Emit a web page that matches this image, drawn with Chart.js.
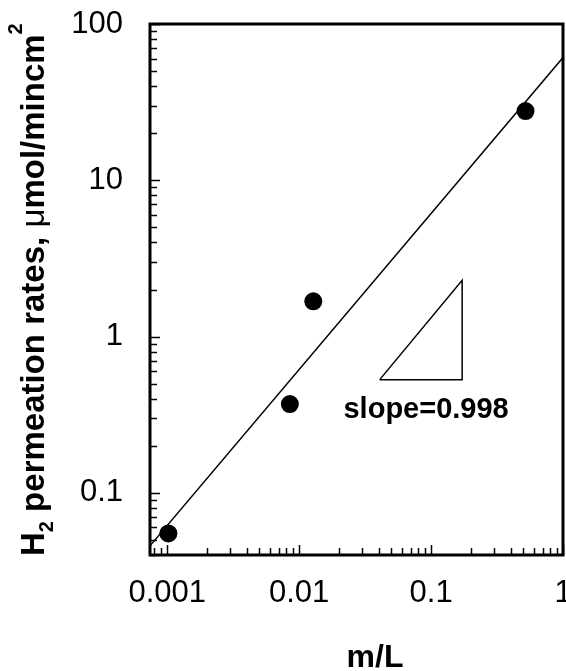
<!DOCTYPE html>
<html>
<head>
<meta charset="utf-8">
<script src="https://cdn.jsdelivr.net/npm/chart.js@4"></script>
<style>
html, body { margin: 0; padding: 0; background: #fff; }
#wrap { width: 566px; height: 671px; position: relative; }
</style>
</head>
<body>
<div id="wrap"><canvas id="myChart"></canvas></div>
<script>
// measured points
const xData = [0.00102, 0.0085, 0.0128, 0.52];
const yData = [0.055, 0.37, 1.68, 27.7];

// fitted line (ends at the plot edges)
const fitX = [0.00074, 1];
const fitY = [0.0458, 61];

// slope triangle
const triX = [0.0408, 0.172, 0.172, 0.0408];
const triY = [0.53, 2.29, 0.53, 0.53];

const xTicks = [0.001, 0.01, 0.1, 1];
const xTickLabels = ["0.001", "0.01", "0.1", "1"];
const yTicks = [0.1, 1, 10, 100];
const yTickLabels = ["0.1", "1", "10", "100"];
const xRange = [0.00074, 1];
const yRange = [0.04, 100];

const slopeLabel = "slope=0.998";
const slopeAt = [0.0917, 0.34];

const FONT = "'Liberation Sans', Arial, sans-serif";

const pts = (xs, ys) => xs.map((v, i) => ({ x: v, y: ys[i] }));

const framePlugin = {
	id: "frame",
	afterDraw(chart) {
		const { ctx, chartArea: a, scales } = chart;
		const x = scales.x, y = scales.y;
		ctx.save();
		ctx.strokeStyle = "#000";
		ctx.fillStyle = "#000";

		// inward ticks, decades + minors
		ctx.lineWidth = 1.5;
		ctx.beginPath();
		for (let e = -5; e <= 3; e++) {
			for (let m = 1; m <= 9; m++) {
				const v = m * Math.pow(10, e);
				const len = m === 1 ? 10 : 7;
				if (v >= xRange[0] && v <= xRange[1]) {
					const px = Math.round(x.getPixelForValue(v)) + 0.5;
					ctx.moveTo(px, a.bottom);
					ctx.lineTo(px, a.bottom - len);
				}
				if (v >= yRange[0] && v <= yRange[1]) {
					const py = Math.round(y.getPixelForValue(v)) + 0.5;
					ctx.moveTo(a.left, py);
					ctx.lineTo(a.left + len, py);
				}
			}
		}
		ctx.stroke();

		ctx.lineWidth = 3;
		ctx.strokeRect(a.left, a.top, a.right - a.left, a.bottom - a.top);

		// slope label
		ctx.font = "bold 29px " + FONT;
		ctx.textAlign = "center";
		ctx.textBaseline = "middle";
		ctx.fillText(slopeLabel, x.getPixelForValue(slopeAt[0]), y.getPixelForValue(slopeAt[1]));

		// x title
		ctx.font = "bold 32px " + FONT;
		ctx.textBaseline = "alphabetic";
		ctx.fillText("m/L", 375, 667);

		// y title, rotated, with sub/superscripts
		ctx.translate(44, 556);
		ctx.rotate(-Math.PI / 2);
		ctx.textAlign = "left";
		const parts = [
			{ t: "H", f: "bold 33px ", dy: 0 },
			{ t: "2", f: "bold 20px ", dy: 9 },
			{ t: " permeation rates, ", f: "bold 33px ", dy: 0 },
			{ t: "\u03bc", f: "33px ", dy: 0 },
			{ t: "mol/mincm", f: "bold 33px ", dy: 0 },
			{ t: "2", f: "bold 20px ", dy: -22 },
		];
		let cx = 0;
		parts.forEach((p) => {
			ctx.font = p.f + FONT;
			ctx.fillText(p.t, cx, p.dy);
			cx += ctx.measureText(p.t).width;
		});
		ctx.restore();
	},
};

const config = {
	type: "scatter",
	data: {
		datasets: [
			{
				label: "data",
				data: pts(xData, yData),
				pointRadius: 9,
				pointBackgroundColor: "#000",
				pointBorderWidth: 0,
				order: 0,
			},
			{
				label: "fit",
				data: pts(fitX, fitY),
				showLine: true,
				borderColor: "#000",
				borderWidth: 1.5,
				pointRadius: 0,
				order: 1,
			},
			{
				label: "triangle",
				data: pts(triX, triY),
				showLine: true,
				borderColor: "#000",
				borderWidth: 1.5,
				pointRadius: 0,
				clip: false,
				order: 2,
			},
		],
	},
	options: {
		responsive: true,
		maintainAspectRatio: false,
		animation: false,
		layout: { autoPadding: false, padding: { top: 24, right: 3, left: 0, bottom: 0 } },
		plugins: { legend: { display: false }, tooltip: { enabled: false } },
		scales: {
			x: {
				type: "logarithmic",
				min: xRange[0],
				max: xRange[1],
				grid: { display: false },
				border: { display: false },
				afterBuildTicks: (s) => {
					s.ticks = xTicks.map((v) => ({ value: v }));
				},
				afterFit: (s) => {
					s.height = 116;
					s.paddingLeft = 0;
					s.paddingRight = 0;
				},
				ticks: {
					autoSkip: false,
					maxRotation: 0,
					padding: 12,
					color: "#000",
					font: { family: FONT, size: 31 },
					callback: (v, i) => xTickLabels[i],
				},
			},
			y: {
				type: "logarithmic",
				min: yRange[0],
				max: yRange[1],
				grid: { display: false },
				border: { display: false },
				afterBuildTicks: (s) => {
					s.ticks = yTicks.map((v) => ({ value: v }));
				},
				afterFit: (s) => {
					s.width = 150;
					s.paddingTop = 0;
					s.paddingBottom = 0;
				},
				ticks: {
					autoSkip: false,
					padding: 19,
					color: "#000",
					font: { family: FONT, size: 31 },
					callback: (v, i) => yTickLabels[i],
				},
			},
		},
	},
	plugins: [framePlugin],
};

new Chart(document.getElementById("myChart"), config);
</script>
</body>
</html>
